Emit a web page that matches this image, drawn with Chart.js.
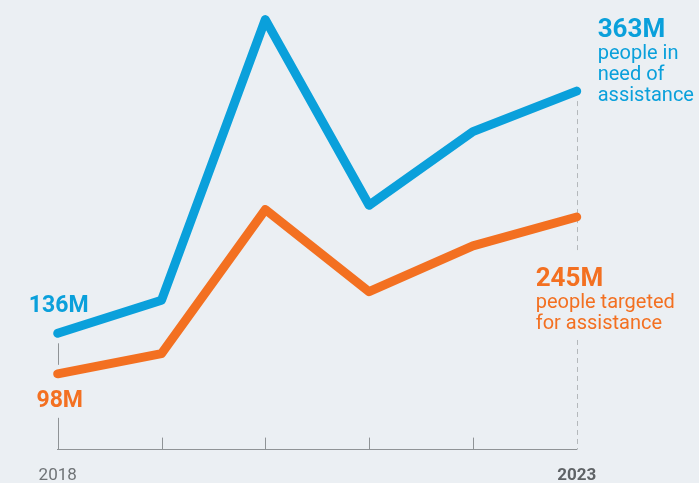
<!DOCTYPE html>
<html>
<head>
<meta charset="utf-8">
<script src="https://cdn.jsdelivr.net/npm/chart.js@4/dist/chart.umd.min.js"></script>
<style>
  html, body { margin: 0; padding: 0; background: #ebeff3; }
  #wrap { width: 699px; height: 483px; }
</style>
</head>
<body>
<div id="wrap"><canvas id="grafico" width="699" height="483"></canvas></div>
<script>
// --- DADOS ---
const anos = ["2018", "2019", "2020", "2021", "2022", "2023"];
const pessoasNecessidade = [136, 167, 430, 256, 325, 363];   // milhões
const pessoasAlvo = [98, 117, 252, 175, 218, 245];            // milhões
const rotulosVisiveis = ["2018", "2023"];

const AZUL = "#0aa0db";
const LARANJA = "#f37021";
const CINZA = "#8f9396";
const FONTE = "Roboto, 'Noto Sans', sans-serif";

// --- ANOTAÇÕES (linhas verticais e rótulos) ---
const anotacoes = {
    id: "anotacoes",
    beforeDatasetsDraw(chart) {
        const ctx = chart.ctx;
        const x = chart.scales.x;
        const y = chart.scales.y;
        const base = chart.chartArea.bottom;
        const n = anos.length - 1;

        ctx.save();
        ctx.strokeStyle = CINZA;
        ctx.lineWidth = 1;
        // ticks internos (para cima)
        for (let i = 1; i < n; i++) {
            const px = Math.round(x.getPixelForValue(i)) + 0.5;
            ctx.beginPath();
            ctx.moveTo(px, base);
            ctx.lineTo(px, base - 12);
            ctx.stroke();
        }
        // linha sólida em 2018
        const x0 = Math.round(x.getPixelForValue(0)) + 0.5;
        const yA0 = y.getPixelForValue(pessoasNecessidade[0]);
        const yL0 = y.getPixelForValue(pessoasAlvo[0]);
        ctx.beginPath();
        ctx.moveTo(x0, yA0 + 10);
        ctx.lineTo(x0, yL0 - 9);
        ctx.moveTo(x0, yL0 + 44);
        ctx.lineTo(x0, base);
        ctx.stroke();

        // linha tracejada em 2023
        const xn = Math.round(x.getPixelForValue(n)) + 0.5;
        const yAn = y.getPixelForValue(pessoasNecessidade[n]);
        const yLn = y.getPixelForValue(pessoasAlvo[n]);
        ctx.strokeStyle = "#b4b8bb";
        ctx.setLineDash([5, 4]);
        ctx.beginPath();
        ctx.moveTo(xn, yAn + 10);
        ctx.lineTo(xn, yLn + 36);
        ctx.moveTo(xn, yLn + 123);
        ctx.lineTo(xn, base);
        ctx.stroke();
        ctx.restore();
    },
    afterDatasetsDraw(chart) {
        const ctx = chart.ctx;
        const x = chart.scales.x;
        const y = chart.scales.y;
        const n = anos.length - 1;

        const x0 = x.getPixelForValue(0);
        const xn = x.getPixelForValue(n);
        const yA0 = y.getPixelForValue(pessoasNecessidade[0]);
        const yL0 = y.getPixelForValue(pessoasAlvo[0]);
        const yAn = y.getPixelForValue(pessoasNecessidade[n]);
        const yLn = y.getPixelForValue(pessoasAlvo[n]);

        ctx.save();
        ctx.textBaseline = "alphabetic";

        // 2018
        ctx.textAlign = "center";
        ctx.font = "bold 23px " + FONTE;
        ctx.fillStyle = AZUL;
        ctx.fillText(pessoasNecessidade[0] + "M", x0 + 1, yA0 - 21);
        ctx.fillStyle = LARANJA;
        ctx.fillText(pessoasAlvo[0] + "M", x0 + 2, yL0 + 33);

        // 2023 - necessidade
        ctx.textAlign = "left";
        ctx.fillStyle = AZUL;
        ctx.font = "bold 26px " + FONTE;
        ctx.fillText(pessoasNecessidade[n] + "M", xn + 21, yAn - 54);
        ctx.font = "20px " + FONTE;
        ["people in", "need of", "assistance"].forEach((t, i) => {
            ctx.fillText(t, xn + 21, yAn - 32 + i * 21);
        });

        // 2023 - alvo
        ctx.fillStyle = LARANJA;
        ctx.font = "bold 26px " + FONTE;
        ctx.fillText(pessoasAlvo[n] + "M", xn - 41, yLn + 69);
        ctx.font = "20px " + FONTE;
        ["people targeted", "for assistance"].forEach((t, i) => {
            ctx.fillText(t, xn - 41, yLn + 91 + i * 21);
        });
        ctx.restore();
    }
};

// --- GRÁFICO ---
const ctxGrafico = document.getElementById("grafico").getContext("2d");
const graficoPrincipal = new Chart(ctxGrafico, {
    type: "line",
    data: {
        labels: anos,
        datasets: [
            {
                label: "People in need of assistance",
                data: pessoasNecessidade,
                borderColor: AZUL,
                borderWidth: 9,
                borderCapStyle: "round",
                borderJoinStyle: "round",
                pointRadius: 0,
                tension: 0,
                fill: false
            },
            {
                label: "People targeted for assistance",
                data: pessoasAlvo,
                borderColor: LARANJA,
                borderWidth: 9,
                borderCapStyle: "round",
                borderJoinStyle: "round",
                pointRadius: 0,
                tension: 0,
                fill: false
            }
        ]
    },
    options: {
        responsive: false,
        animation: false,
        clip: false,
        layout: { padding: { left: 57.7, right: 122.3, top: 10, bottom: -19 } },
        plugins: { legend: { display: false }, tooltip: { enabled: false } },
        scales: {
            x: {
                offset: false,
                grid: { display: false, drawTicks: false },
                border: { display: true, color: CINZA, width: 1 },
                ticks: {
                    padding: 16,
                    maxRotation: 0,
                    autoSkip: false,
                    callback: (v, i) => rotulosVisiveis.includes(anos[i]) ? anos[i] : "",
                    color: (c) => c.index === anos.length - 1 ? "#5f6366" : "#6f7376",
                    font: (c) => ({
                        family: FONTE,
                        size: 17,
                        weight: c.index === anos.length - 1 ? "bold" : "normal"
                    })
                }
            },
            y: {
                display: false,
                min: 27,
                max: 439
            }
        }
    },
    plugins: [anotacoes]
});
</script>
</body>
</html>
